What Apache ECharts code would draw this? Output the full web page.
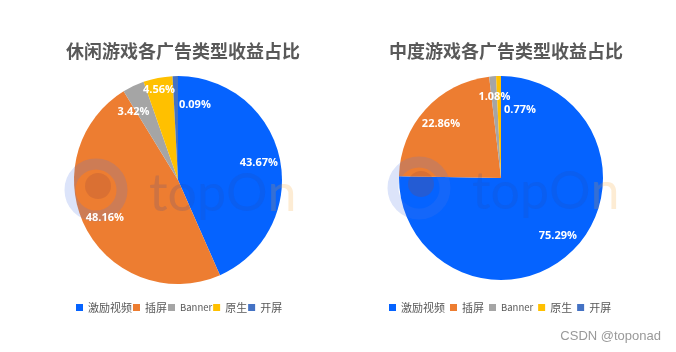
<!DOCTYPE html>
<html>
<head>
<meta charset="utf-8">
<script src="https://cdn.jsdelivr.net/npm/echarts@6/dist/echarts.min.js"></script>
<style>
html, body { margin: 0; padding: 0; background: #fff; }
#chart { width: 676px; height: 352px; }
</style>
</head>
<body>
<div id="chart"></div>
<script>
const adTypes = ['激励视频', '插屏', 'Banner', '原生', '开屏'];
const casualShare = [43.67, 48.16, 3.42, 4.56, 0.09];
const midcoreShare = [75.29, 22.86, 1.08, 0.77, 0];
const titles = ['休闲游戏各广告类型收益占比', '中度游戏各广告类型收益占比'];
const colors = ['#0563ff', '#ed7d31', '#a5a5a5', '#ffc000', '#4472c4'];

// small slices: labels were moved by hand in the original
const nudge = [
  { 2: [-9, 6], 3: [-3, -9], 4: [19, 7] },
  { 3: [21, 13] },
];

const toData = (arr) => adTypes.map((name, i) => ({ name, value: arr[i] }));
const fmt = (p) => (p.value > 0 ? p.value.toFixed(2) + '%' : '');

const pies = [
  { cx: 178, cy: 180, r: 104, data: casualShare, minAngle: 3 },
  { cx: 501, cy: 178, r: 102, data: midcoreShare, minAngle: 0 },
];

const series = [];
pies.forEach((p, k) => {
  series.push({
    type: 'pie',
    center: [p.cx, p.cy],
    radius: [0, p.r],
    minAngle: p.minAngle,
    data: toData(p.data),
    label: { show: false },
    labelLine: { show: false },
    itemStyle: { borderWidth: 0 },
    emphasis: { disabled: true },
    silent: true,
    z: 2,
  });
  // transparent ring only to put the labels at ~3/4 of the radius
  series.push({
    type: 'pie',
    center: [p.cx, p.cy],
    radius: [p.r * 0.53, p.r],
    minAngle: p.minAngle,
    data: toData(p.data),
    itemStyle: { color: 'rgba(0,0,0,0)' },
    label: {
      show: true,
      position: 'inside',
      formatter: fmt,
      color: '#fff',
      fontSize: 11,
      fontWeight: 'bold',
      fontFamily: 'Open Sans, sans-serif',
    },
    labelLine: { show: false },
    labelLayout: (params) => {
      const d = nudge[k][params.dataIndex];
      return d ? { dx: d[0], dy: d[1] } : {};
    },
    emphasis: { disabled: true },
    silent: true,
    z: 5,
  });
});

const watermark = (cx, cy) => ([
  {
    type: 'circle',
    z: 3,
    shape: { cx: cx - 82, cy: cy + 10, r: 26 },
    style: { fill: 'none', stroke: 'rgba(80,120,230,0.2)', lineWidth: 11 },
  },
  {
    type: 'circle',
    z: 3,
    shape: { cx: cx - 80, cy: cy + 6, r: 13 },
    style: { fill: 'rgba(150,70,60,0.22)' },
  },
  {
    type: 'text',
    z: 3,
    style: {
      x: cx - 29,
      y: cy + 14,
      text: '{a|topO}{b|n}',
      verticalAlign: 'middle',
      rich: {
        a: { fill: 'rgba(40,70,160,0.16)', fontSize: 52, fontFamily: 'Lato, sans-serif', fontWeight: 'normal' },
        b: { fill: 'rgba(245,160,40,0.2)', fontSize: 52, fontFamily: 'Lato, sans-serif', fontWeight: 'normal' },
      },
    },
  },
]);

const legendData = adTypes.map((n) => (n === 'Banner' ? { name: n, textStyle: { fontSize: 9.5 } } : n));
const legendBase = {
  icon: 'rect',
  itemWidth: 7,
  itemHeight: 7,
  top: 297,
  data: legendData,
  selectedMode: false,
  textStyle: { color: '#595959', fontSize: 11, fontFamily: 'Noto Sans CJK SC, sans-serif' },
};

const chart = echarts.init(document.getElementById('chart'));
chart.setOption({
  color: colors,
  animation: false,
  title: titles.map((t, i) => ({
    text: t,
    left: pies[i].cx,
    top: 37,
    textAlign: 'center',
    textStyle: { color: '#595959', fontSize: 18, fontWeight: 'bold', fontFamily: 'Noto Sans CJK SC, sans-serif' },
  })),
  legend: [
    Object.assign({}, legendBase, { left: 71, itemGap: 1 }),
    Object.assign({}, legendBase, { left: 384, itemGap: 5 }),
  ],
  graphic: [
    ...watermark(pies[0].cx, pies[0].cy),
    ...watermark(pies[1].cx, pies[1].cy),
    {
      type: 'text',
      right: 15,
      bottom: 9,
      z: 10,
      style: { text: 'CSDN @toponad', fill: '#999', fontSize: 13, fontFamily: 'Liberation Sans, Arial, sans-serif' },
    },
  ],
  series: series,
});
</script>
</body>
</html>
